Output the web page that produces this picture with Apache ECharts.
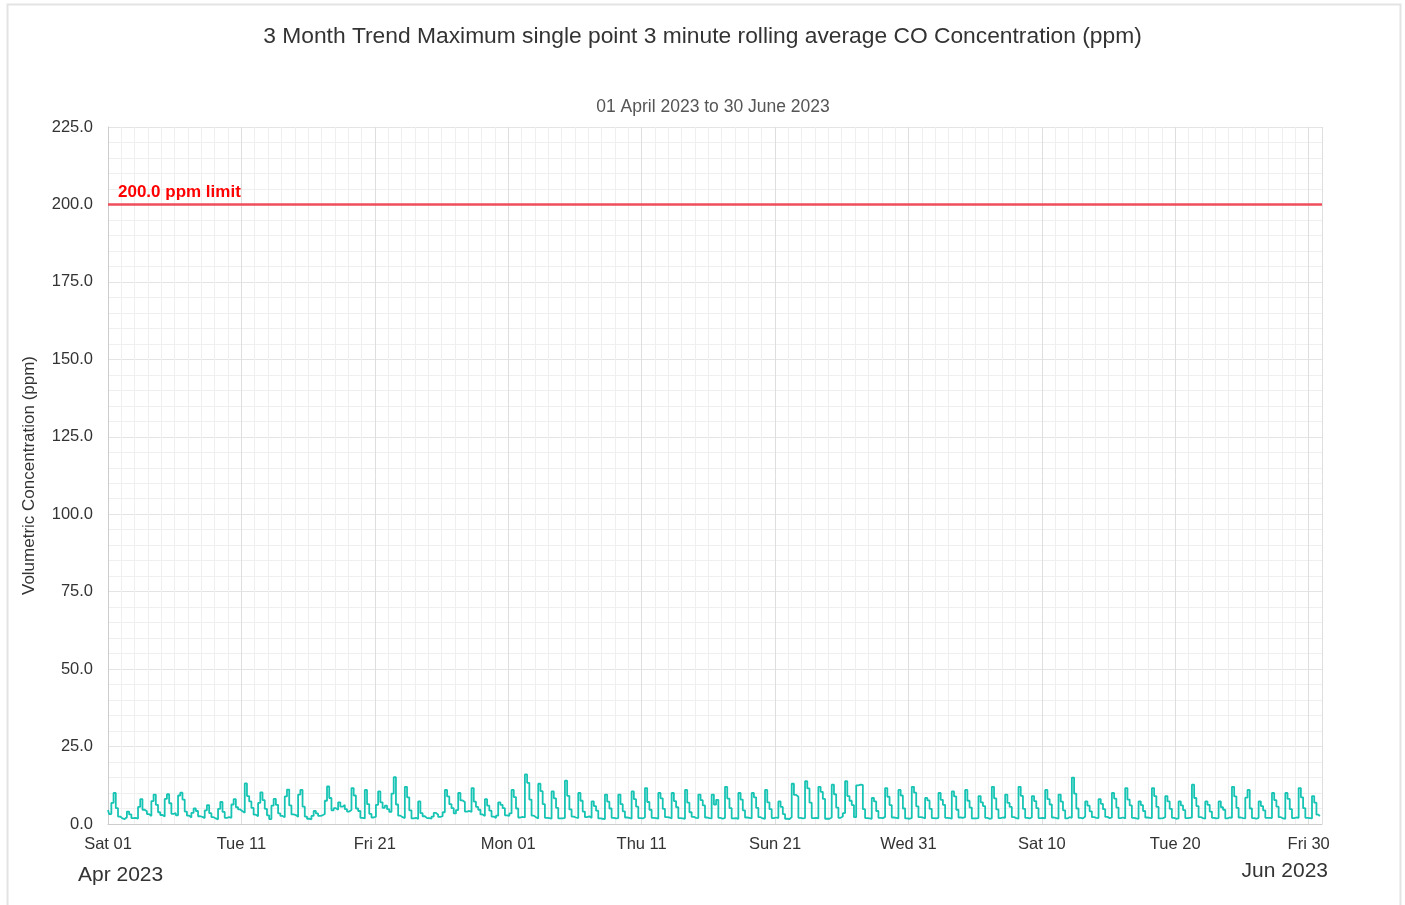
<!DOCTYPE html>
<html>
<head>
<meta charset="utf-8">
<title>CO Concentration 3 Month Trend</title>
<script src="https://cdn.jsdelivr.net/npm/echarts/dist/echarts.min.js"></script>
<style>
  html, body { margin: 0; padding: 0; background: #fff; }
  #chart { width: 1405px; height: 905px; }
</style>
</head>
<body>
<div id="chart"></div>
<script>
const titleText = '3 Month Trend Maximum single point 3 minute rolling average CO Concentration (ppm)'
const subTitleText = '01 April 2023 to 30 June 2023'
const yAxisName = 'Volumetric Concentration (ppm)'
const startLabel = 'Apr 2023'
const endLabel = 'Jun 2023'

// x axis counted in days from 01 Apr 2023, samples every 4 hours
const startDateUtc = Date.UTC(2023, 3, 1)
const stepHours = 4
const xMinDay = 0
const xMaxDay = 91
const xTickDays = 10

const yMin = 0
const yMax = 225
const yTick = 25

const limitValue = 200
const limitLabel = '200.0 ppm limit'

// 6 readings a day (00, 04, 08, 12, 16, 20h)
const coValues = [
  4.5, 3.2, 6.8, 10.0, 5.1, 2.4,
  1.8, 1.6, 2.2, 4.0, 3.1, 1.9,
  2.0, 1.7, 5.5, 8.0, 4.6, 4.1,
  3.2, 2.6, 7.4, 9.5, 6.2, 3.8,
  2.9, 2.4, 8.1, 9.6, 6.7, 3.3,
  3.5, 2.8, 9.2, 10.1, 7.9, 4.0,
  2.7, 2.1, 3.6, 5.0, 4.2, 2.5,
  2.3, 1.9, 4.4, 6.1, 3.5, 2.2,
  1.8, 1.5, 4.9, 7.1, 3.9, 2.0,
  2.2, 2.0, 6.3, 8.0, 5.4, 4.7,
  4.1, 3.6, 13.1, 9.0, 7.3, 5.2,
  3.0, 2.5, 6.8, 10.2, 7.7, 4.9,
  2.8, 1.6, 5.9, 8.1, 6.2, 3.4,
  2.6, 2.2, 8.9, 11.1, 6.0, 3.1,
  2.9, 2.3, 9.5, 11.0, 5.6, 2.4,
  1.7, 1.5, 2.6, 4.2, 3.4, 2.6,
  2.8, 3.2, 7.5, 12.1, 8.4, 4.4,
  5.1, 4.6, 7.0, 5.6, 6.1, 4.8,
  4.0, 4.5, 11.6, 9.2, 5.0, 4.2,
  2.0, 1.8, 11.0, 6.4, 3.3, 2.1,
  2.4, 6.2, 10.5, 7.0, 5.2, 5.9,
  4.8, 3.9, 9.8, 15.1, 6.3, 2.7,
  2.2, 1.9, 12.0, 8.6, 4.4, 1.8,
  2.0, 1.6, 7.3, 3.5, 2.5, 1.9,
  1.9, 1.7, 2.4, 3.6, 3.0, 2.3,
  2.5, 3.8, 11.0, 8.9, 6.4, 5.1,
  3.4, 4.5, 10.0, 7.6, 7.1, 4.0,
  4.2, 3.9, 11.6, 7.2, 5.5, 4.6,
  3.1, 2.6, 8.0, 5.9, 4.3, 2.4,
  1.9, 2.7, 7.0, 6.2, 5.1, 2.8,
  2.6, 3.4, 11.0, 8.7, 5.0, 2.1,
  2.3, 2.1, 16.0, 13.3, 7.9, 2.7,
  2.2, 1.8, 13.0, 10.6, 6.4, 2.0,
  1.9, 1.7, 10.5, 8.3, 5.2, 1.8,
  1.8, 2.0, 14.0, 9.1, 4.7, 2.4,
  2.1, 1.9, 10.0, 7.5, 4.0, 2.2,
  2.5, 1.9, 7.3, 5.8, 4.3, 1.8,
  1.7, 1.6, 9.5, 7.2, 5.0, 2.0,
  1.8, 1.9, 9.5, 6.4, 4.1, 2.1,
  2.0, 1.7, 10.5, 8.0, 5.6, 1.9,
  1.8, 2.2, 11.6, 7.1, 4.6, 2.0,
  1.9, 1.7, 10.0, 8.3, 4.9, 2.2,
  2.1, 1.8, 10.0, 7.4, 5.4, 1.9,
  1.8, 1.7, 11.0, 6.9, 3.8, 2.3,
  2.0, 1.9, 9.5, 7.7, 6.0, 2.1,
  1.9, 1.8, 9.5, 6.3, 7.8, 2.0,
  1.7, 2.0, 12.0, 8.2, 5.1, 1.8,
  1.9, 1.6, 10.0, 7.9, 4.4, 2.1,
  2.0, 1.8, 10.0, 8.6, 5.2, 2.2,
  1.8, 1.7, 11.0, 7.0, 4.8, 1.9,
  2.1, 1.9, 7.3, 5.5, 3.2, 1.7,
  1.6, 2.2, 13.0, 9.4, 8.8, 2.0,
  1.8, 1.9, 13.8, 11.5, 6.9, 1.9,
  2.0, 1.8, 12.0, 10.4, 8.1, 1.7,
  1.7, 2.1, 12.7, 9.6, 5.3, 2.0,
  2.4, 3.5, 13.8, 9.0, 7.5, 6.1,
  2.2, 12.5, 12.7, 12.6, 4.8, 1.9,
  1.8, 1.7, 8.4, 7.3, 4.2, 2.0,
  1.9, 2.3, 11.6, 8.8, 6.1, 2.1,
  2.0, 1.8, 11.0, 9.2, 5.0, 1.8,
  1.7, 1.9, 12.0, 10.1, 5.7, 2.2,
  2.1, 1.8, 8.4, 7.6, 4.9, 1.9,
  1.8, 2.0, 10.0, 7.8, 6.2, 2.0,
  1.9, 1.7, 10.5, 8.9, 4.6, 2.1,
  2.0, 2.2, 11.0, 7.5, 5.3, 1.8,
  1.8, 1.9, 9.0, 7.0, 5.8, 2.0,
  1.7, 1.8, 12.0, 8.3, 4.7, 1.9,
  2.1, 2.0, 9.5, 6.8, 5.5, 2.2,
  1.9, 1.7, 12.0, 9.1, 4.9, 2.0,
  1.8, 2.1, 9.0, 7.4, 5.1, 1.9,
  2.0, 1.8, 11.0, 8.0, 6.3, 2.1,
  1.9, 1.7, 9.5, 7.2, 4.4, 1.8,
  2.2, 2.0, 15.0, 9.8, 5.0, 2.0,
  1.8, 2.4, 7.3, 5.9, 4.1, 2.2,
  2.0, 1.9, 8.0, 6.5, 4.8, 2.3,
  1.9, 2.1, 10.0, 8.2, 5.3, 1.9,
  2.1, 1.8, 11.6, 7.9, 6.0, 2.0,
  1.8, 1.7, 7.3, 6.1, 4.2, 2.1,
  2.0, 1.9, 11.6, 9.0, 5.5, 1.8,
  1.9, 2.2, 9.0, 7.3, 4.9, 2.0,
  1.7, 1.8, 7.3, 6.0, 4.5, 1.9,
  2.0, 2.1, 12.7, 8.4, 5.8, 2.2,
  1.9, 1.7, 7.3, 6.2, 4.0, 2.0,
  1.8, 1.9, 7.3, 5.4, 4.6, 1.8,
  2.1, 2.0, 12.0, 8.9, 5.2, 2.1,
  1.9, 1.8, 8.5, 11.0, 5.0, 1.9,
  1.7, 2.0, 7.3, 5.8, 4.4, 2.0,
  2.0, 1.9, 10.0, 7.7, 5.6, 2.2,
  1.8, 1.7, 10.0, 8.1, 4.8, 1.9,
  2.1, 2.0, 11.6, 8.6, 5.1, 2.0,
  1.9, 1.8, 9.0, 6.9, 3.0, 2.5
]

const weekDays = ['Sun', 'Mon', 'Tue', 'Wed', 'Thu', 'Fri', 'Sat']
const textColor = '#333'
const lineColor = '#17c4b4'
const limitColor = '#ef4d5a'
const fontFamily = 'Liberation Sans, Arial, sans-serif'

function dayLabel(v) {
  if (v % xTickDays !== 0 || v >= xMaxDay) return ''
  const d = new Date(startDateUtc + v * 86400000)
  const dd = String(d.getUTCDate()).padStart(2, '0')
  return weekDays[d.getUTCDay()] + ' ' + dd
}

const seriesData = coValues.map((v, i) => [i * stepHours / 24, v])

const chart = echarts.init(document.getElementById('chart'), null, { renderer: 'canvas' })
chart.setOption({
  animation: false,
  backgroundColor: '#fff',
  textStyle: { fontFamily },
  title: [
    {
      text: titleText,
      left: 'center',
      top: 20,
      textStyle: { fontSize: 22.8, fontWeight: 'normal', color: textColor }
    },
    {
      text: subTitleText,
      left: 708,
      textAlign: 'center',
      top: 93,
      textStyle: { fontSize: 17.5, fontWeight: 'normal', color: '#555' }
    }
  ],
  grid: {
    left: 108,
    right: 83,
    top: 127,
    bottom: 81,
    containLabel: false
  },
  xAxis: {
    type: 'value',
    min: xMinDay,
    max: xMaxDay,
    interval: xTickDays,
    axisLine: { show: true, lineStyle: { color: '#ccc' } },
    axisTick: { show: false },
    axisLabel: {
      color: textColor,
      fontSize: 16.5,
      margin: 12,
      showMaxLabel: false,
      formatter: dayLabel
    },
    splitLine: { show: true, lineStyle: { color: '#dedede', width: 1 } },
    minorTick: { show: false, splitNumber: 10 },
    minorSplitLine: { show: true, lineStyle: { color: '#efefef', width: 1 } }
  },
  yAxis: {
    type: 'value',
    min: yMin,
    max: yMax,
    interval: yTick,
    name: yAxisName,
    nameLocation: 'middle',
    nameGap: 70,
    nameTextStyle: { color: textColor, fontSize: 17 },
    axisLine: { show: true, lineStyle: { color: '#ccc' } },
    axisTick: { show: false },
    axisLabel: {
      color: textColor,
      fontSize: 16.5,
      margin: 15,
      formatter: v => v.toFixed(1)
    },
    splitLine: { show: true, lineStyle: { color: '#e4e4e4', width: 1 } },
    minorTick: { show: false, splitNumber: 5 },
    minorSplitLine: { show: true, lineStyle: { color: '#efefef', width: 1 } }
  },
  graphic: [
    {
      type: 'rect',
      silent: true,
      shape: { x: 7.5, y: 4.5, width: 1393, height: 920 },
      style: { fill: 'none', stroke: '#e3e3e3', lineWidth: 2 }
    },
    {
      type: 'text',
      left: 78,
      top: 865,
      style: { text: startLabel, fontSize: 21, fill: textColor, fontFamily }
    },
    {
      type: 'text',
      right: 77,
      top: 861,
      style: { text: endLabel, fontSize: 21, fill: textColor, fontFamily }
    }
  ],
  series: [
    {
      type: 'line',
      data: seriesData,
      step: 'middle',
      showSymbol: false,
      symbol: 'none',
      lineStyle: { color: lineColor, width: 1.8 },
      itemStyle: { color: lineColor },
      markLine: {
        silent: true,
        symbol: 'none',
        lineStyle: { color: limitColor, width: 2.5, type: 'solid' },
        label: {
          position: 'insideStartTop',
          formatter: limitLabel,
          color: '#ff0000',
          fontWeight: 'bold',
          fontSize: 17,
          distance: [10, 4]
        },
        data: [{ yAxis: limitValue }]
      }
    }
  ]
})
</script>
</body>
</html>
